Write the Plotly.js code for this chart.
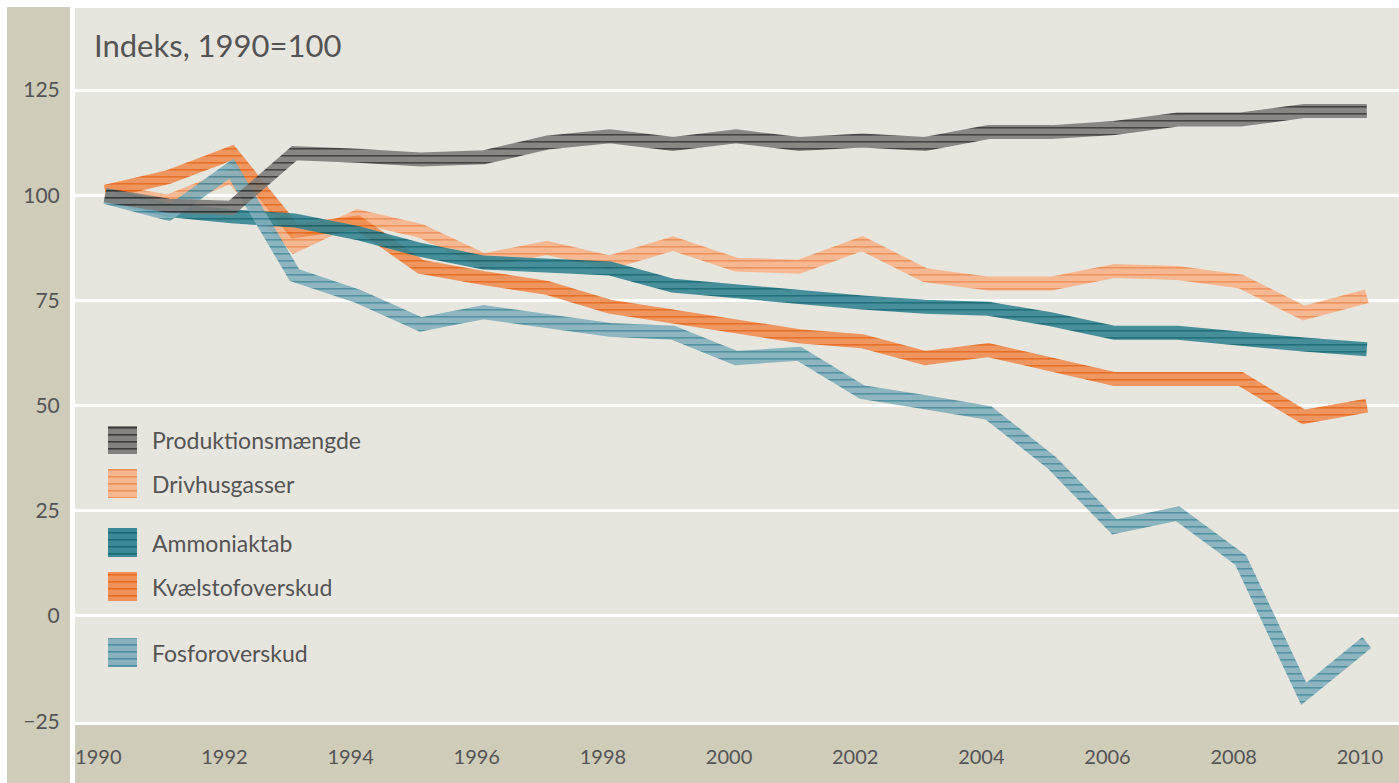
<!DOCTYPE html>
<html>
<head>
<meta charset="utf-8">
<script src="https://cdn.plot.ly/plotly-3.0.1.min.js"></script>
<style>
  html, body { margin: 0; padding: 0; background: #ffffff; }
  #chart { width: 1399px; height: 783px; }
</style>
</head>
<body>
<div id="chart"></div>
<script>
// ---- Data ----
var years = [1990, 1991, 1992, 1993, 1994, 1995, 1996, 1997, 1998, 1999, 2000,
             2001, 2002, 2003, 2004, 2005, 2006, 2007, 2008, 2009, 2010];

var produktionsmaengde = [100, 97.5, 97, 110, 109.4, 108.5, 109, 112.5, 114, 112.2, 114,
                          112.2, 113, 112.2, 115, 115, 116, 118, 118, 120, 120];
var drivhusgasser      = [101, 98.5, 104.5, 88, 95, 91.5, 84.5, 87.5, 84, 88.5, 83.5,
                          83, 88.5, 81, 79, 79, 82, 81.5, 79.5, 72, 76];
var ammoniaktab        = [100, 96.5, 95, 94, 91, 87, 84, 83, 82.6, 78.5, 77,
                          75.5, 74.5, 73.5, 73, 70.5, 67.3, 67.3, 66.3, 64.5, 63.4];
var kvaelstofoverskud  = [100.8, 104.3, 110, 91.5, 93.5, 83, 80.3, 78, 73.5, 71.3, 69.3,
                          66.5, 65.3, 61.3, 63.2, 59.5, 56.3, 56.3, 56.3, 47.3, 50];
var fosforoverskud     = [99.6, 95.6, 106.3, 81, 76, 69.3, 72.2, 70, 68, 67.3, 61.3,
                          62.3, 53.2, 50.8, 48.3, 36.5, 21.2, 24.3, 13.3, -18.5, -6.3];

var seriesNames = ['Produktionsmængde', 'Drivhusgasser', 'Ammoniaktab', 'Kvælstofoverskud', 'Fosforoverskud'];
var xTickVals = [1990, 1992, 1994, 1996, 1998, 2000, 2002, 2004, 2006, 2008, 2010];
var yTickVals = [-25, 0, 25, 50, 75, 100, 125];
var titleText = 'Indeks, 1990=100';

// ---- Styles ----
var styles = {
  'Produktionsmængde': {base: '#7b7a77', stripe: '#2e2e2e', plain: '#6a6967'},
  'Drivhusgasser':     {base: '#f7b287', stripe: '#f0894c', plain: '#f5a375'},
  'Ammoniaktab':       {base: '#2f8291', stripe: '#07606f', plain: '#237584'},
  'Kvælstofoverskud':  {base: '#f08a4d', stripe: '#e8600f', plain: '#ee7a38'},
  'Fosforoverskud':    {base: '#80aebb', stripe: '#3e8698', plain: '#6ea3b2'}
};
var dataBy = {
  'Produktionsmængde': produktionsmaengde,
  'Drivhusgasser': drivhusgasser,
  'Ammoniaktab': ammoniaktab,
  'Kvælstofoverskud': kvaelstofoverskud,
  'Fosforoverskud': fosforoverskud
};
// drawing order (bottom -> top)
var drawOrder = ['Drivhusgasser', 'Kvælstofoverskud', 'Ammoniaktab', 'Fosforoverskud', 'Produktionsmængde'];

function hexToRgba(h, a) {
  var r = parseInt(h.substr(1, 2), 16), g = parseInt(h.substr(3, 2), 16), b = parseInt(h.substr(5, 2), 16);
  return 'rgba(' + r + ',' + g + ',' + b + ',' + a + ')';
}

var traces = drawOrder.map(function (n) {
  return {
    type: 'scatter', mode: 'lines', name: n,
    x: years, y: dataBy[n],
    line: {width: 14, color: hexToRgba(styles[n].plain, 0.88)},
    hoverinfo: 'skip', showlegend: false
  };
});

// plot box in pixels
var W = 1399, H = 783;
var PL = 75, PR = 1399, PT = 8, PB = 722;
function px(xp) { return (xp - PL) / (PR - PL); }
function py(yp) { return (PB - yp) / (PB - PT); }

var FONT = 'Lato, "Open Sans", sans-serif';
var TXT = '#545454';

var shapes = [
  {type: 'rect', xref: 'paper', yref: 'paper', layer: 'below',
   x0: px(7), x1: px(70), y0: py(783), y1: py(7), fillcolor: '#d0ccba', line: {width: 0}},
  {type: 'rect', xref: 'paper', yref: 'paper', layer: 'below',
   x0: px(75), x1: px(1399), y0: py(783), y1: py(725), fillcolor: '#d0ccba', line: {width: 0}}
];
var legendRows = [
  {name: 'Produktionsmængde', y0: 426, y1: 454},
  {name: 'Drivhusgasser', y0: 469, y1: 498},
  {name: 'Ammoniaktab', y0: 528, y1: 557},
  {name: 'Kvælstofoverskud', y0: 572, y1: 601},
  {name: 'Fosforoverskud', y0: 638, y1: 667}
];
var legendShapeStart = shapes.length;
var annotations = [];
legendRows.forEach(function (r) {
  shapes.push({type: 'rect', xref: 'paper', yref: 'paper', layer: 'above',
    x0: px(108), x1: px(137), y0: py(r.y1), y1: py(r.y0),
    fillcolor: styles[r.name].plain, line: {width: 0}});
  annotations.push({xref: 'paper', yref: 'paper', x: px(150), y: py((r.y0 + r.y1) / 2),
    xanchor: 'left', yanchor: 'middle', showarrow: false, text: r.name,
    font: {family: FONT, size: 23, color: TXT}});
});
annotations.push({xref: 'paper', yref: 'paper', x: px(92), y: py(45),
  xanchor: 'left', yanchor: 'middle', showarrow: false, text: titleText,
  font: {family: FONT, size: 31, color: TXT}});

var layout = {
  width: W, height: H,
  margin: {l: PL, r: W - PR, t: PT, b: H - PB, pad: 0},
  paper_bgcolor: '#ffffff',
  plot_bgcolor: '#e7e6de',
  showlegend: false,
  font: {family: FONT, color: TXT},
  xaxis: {
    range: [1989.52, 2010.51], tickmode: 'array', tickvals: xTickVals,
    showgrid: false, zeroline: false, showline: false,
    ticks: 'outside', ticklen: 17, tickcolor: 'rgba(0,0,0,0)',
    ticklabelshift: -7,
    tickfont: {family: FONT, size: 20, color: TXT}
  },
  yaxis: {
    range: [-25.2, 144.5], tickmode: 'array', tickvals: yTickVals,
    showgrid: true, gridcolor: '#ffffff', gridwidth: 3,
    zeroline: false, showline: false,
    ticks: 'outside', ticklen: 10, tickcolor: 'rgba(0,0,0,0)',
    tickfont: {family: FONT, size: 21, color: TXT}
  },
  shapes: shapes,
  annotations: annotations
};

var gd = document.getElementById('chart');
Plotly.newPlot(gd, traces, layout, {staticPlot: true, displayModeBar: false}).then(function () {
  var NS = 'http://www.w3.org/2000/svg';
  var svg = gd.querySelector('svg.main-svg');
  var defs = document.createElementNS(NS, 'defs');
  svg.insertBefore(defs, svg.firstChild);
  var idOf = {};
  seriesNames.forEach(function (n, i) {
    var id = 'stripes' + i;
    idOf[n] = id;
    var pat = document.createElementNS(NS, 'pattern');
    pat.setAttribute('id', id);
    pat.setAttribute('patternUnits', 'userSpaceOnUse');
    pat.setAttribute('width', '8');
    pat.setAttribute('height', '7');
    var r1 = document.createElementNS(NS, 'rect');
    r1.setAttribute('x', '0'); r1.setAttribute('y', '0');
    r1.setAttribute('width', '8'); r1.setAttribute('height', '7');
    r1.setAttribute('fill', styles[n].base);
    var r2 = document.createElementNS(NS, 'rect');
    r2.setAttribute('x', '0'); r2.setAttribute('y', '0');
    r2.setAttribute('width', '8'); r2.setAttribute('height', '1.6');
    r2.setAttribute('fill', styles[n].stripe);
    pat.appendChild(r1); pat.appendChild(r2);
    defs.appendChild(pat);
  });
  var lines = gd.querySelectorAll('.scatterlayer .trace path.js-line');
  lines.forEach(function (p, i) {
    p.style.stroke = 'url(#' + idOf[drawOrder[i]] + ')';
  });
  var sp = gd.querySelectorAll('.shapelayer path');
  sp.forEach(function (p) {
    var idx = parseInt(p.getAttribute('data-index'), 10);
    if (idx >= legendShapeStart) {
      var n = legendRows[idx - legendShapeStart].name;
      p.style.fill = 'url(#' + idOf[n] + ')';
      p.style.fillOpacity = '0.92';
    }
  });
});
</script>
</body>
</html>
